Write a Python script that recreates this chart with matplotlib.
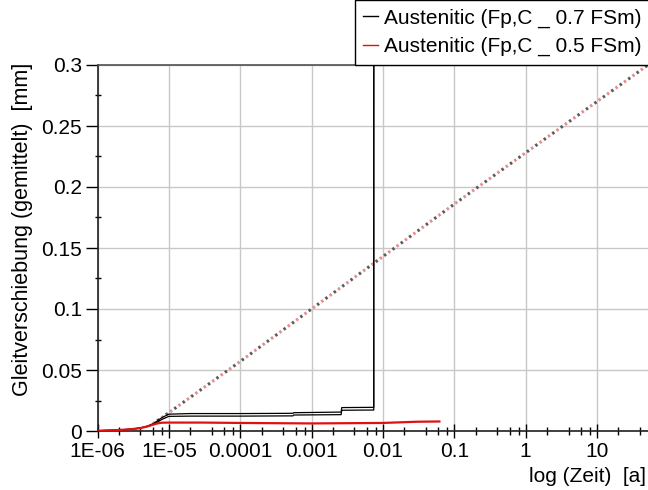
import matplotlib
matplotlib.use("Agg")
import matplotlib.pyplot as plt
import numpy as np

plt.rcParams['font.family'] = ['Liberation Sans', 'DejaVu Sans']

# ---- data ----
x_tick_vals = [1e-6, 1e-5, 1e-4, 1e-3, 1e-2, 1e-1, 1, 10]
x_tick_labels = ['1E-06', '1E-05', '0.0001', '0.001', '0.01', '0.1', '1', '10']
y_tick_vals = [0, 0.05, 0.1, 0.15, 0.2, 0.25, 0.3]
y_tick_labels = ['0', '0.05', '0.1', '0.15', '0.2', '0.25', '0.3']

# black series (0.7 FSm): band drawn as two lines
black_t = [1e-6, 2e-6, 3e-6, 4e-6, 5e-6, 6e-6, 7e-6, 8e-6, 1e-5, 2e-5, 1e-4,
           5.5e-4, 5.6e-4, 2.6e-3, 2.65e-3, 7.45e-3, 7.46e-3]
black_lo = [0.0002, 0.0008, 0.0015, 0.0025, 0.0038, 0.0055, 0.0075, 0.0095, 0.0120, 0.0122, 0.0122,
            0.0124, 0.0131, 0.0134, 0.0170, 0.0172, 0.35]
black_hi = [0.0002, 0.0008, 0.0015, 0.0025, 0.0040, 0.0060, 0.0085, 0.0110, 0.0138, 0.0143, 0.0143,
            0.0145, 0.0150, 0.0155, 0.0192, 0.0194, 0.35]

# red series (0.5 FSm)
red_t = [1e-6, 2e-6, 3e-6, 4e-6, 5e-6, 6e-6, 7e-6, 8e-6, 1e-5, 3e-5, 1e-4, 1e-3, 1e-2, 0.03, 0.062]
red_y = [0.0002, 0.0008, 0.0015, 0.0024, 0.0037, 0.0052, 0.0063, 0.0068, 0.0069, 0.0069, 0.0066,
         0.0062, 0.0066, 0.0076, 0.0078]

# dotted trend lines (both series)
trend_t = [6e-6, 1e-5, 1e-4, 1e-3, 1e-2, 0.1, 1, 10, 52]
trend_y = [0.006, 0.015, 0.057, 0.100, 0.143, 0.186, 0.228, 0.270, 0.300]

FS = 15

# ---- figure ----
fig = plt.figure(figsize=(6.48, 4.9), dpi=100)
ax = fig.add_axes([97.5 / 648, 59 / 490, 550.5 / 648, 366 / 490])

ax.plot(trend_t, trend_y, color='#e88c8c', lw=2.2, linestyle=(0, (0.8, 2.6)), zorder=3)
ax.plot(trend_t, trend_y, color='#5a5a5a', lw=2.2, linestyle=(1.7, (0.8, 2.6)), zorder=3)

ax.plot(black_t, black_lo, color='black', lw=0.9, zorder=4)
ax.plot(black_t, black_hi, color='black', lw=0.9, zorder=4, label='Austenitic (Fp,C _ 0.7 FSm)')
ax.plot(red_t, red_y, color='#e01010', lw=1.6, zorder=5, label='Austenitic (Fp,C _ 0.5 FSm)')

ax.set_xscale('log')
ax.set_xlim(1e-6, 52)
ax.set_ylim(0, 0.3)

ax.set_xticks(x_tick_vals)
ax.set_xticklabels(x_tick_labels)
ax.xaxis.set_minor_locator(matplotlib.ticker.LogLocator(base=10, subs=[2, 4, 6, 8], numticks=30))
ax.xaxis.set_minor_formatter(matplotlib.ticker.NullFormatter())
ax.set_yticks(y_tick_vals)
ax.set_yticklabels(y_tick_labels)
ax.yaxis.set_minor_locator(matplotlib.ticker.MultipleLocator(0.025))

ax.tick_params(axis='x', which='major', direction='inout', length=10, width=1, labelsize=FS, pad=3)
ax.tick_params(axis='x', which='minor', direction='inout', length=6, width=1)
ax.tick_params(axis='y', which='major', direction='out', length=9, width=1, labelsize=FS, pad=2)
ax.tick_params(axis='y', which='minor', direction='inout', length=5, width=1)
ax.get_yticklabels()[0].set_va('center_baseline')

ax.grid(True, which='major', color='#c8c8c8', lw=1)
ax.set_axisbelow(True)

for s in ['left', 'bottom']:
    ax.spines[s].set_color('#202020')
    ax.spines[s].set_linewidth(1.2)
ax.spines['top'].set_color('#505050')
ax.spines['top'].set_linewidth(1.2)
ax.spines['right'].set_visible(False)

fig.text(23 / 648, 1 - 229 / 490, 'Gleitverschiebung (gemittelt)  [mm]', rotation=90,
         ha='center', va='center', fontsize=15.5)
fig.text(646 / 648, 1 - 476 / 490, 'log (Zeit)  [a]', ha='right', va='center', fontsize=FS)

leg = fig.legend(loc='upper left', bbox_to_anchor=(355 / 648, 1.0), fontsize=FS,
                 handlelength=0.7, handletextpad=0.3, borderpad=0.4, labelspacing=0.45,
                 fancybox=False, framealpha=1, edgecolor='black', borderaxespad=0)
leg.get_frame().set_linewidth(1)
for h in leg.get_lines():
    h.set_linewidth(1)

fig.savefig('out.png', dpi=100)
